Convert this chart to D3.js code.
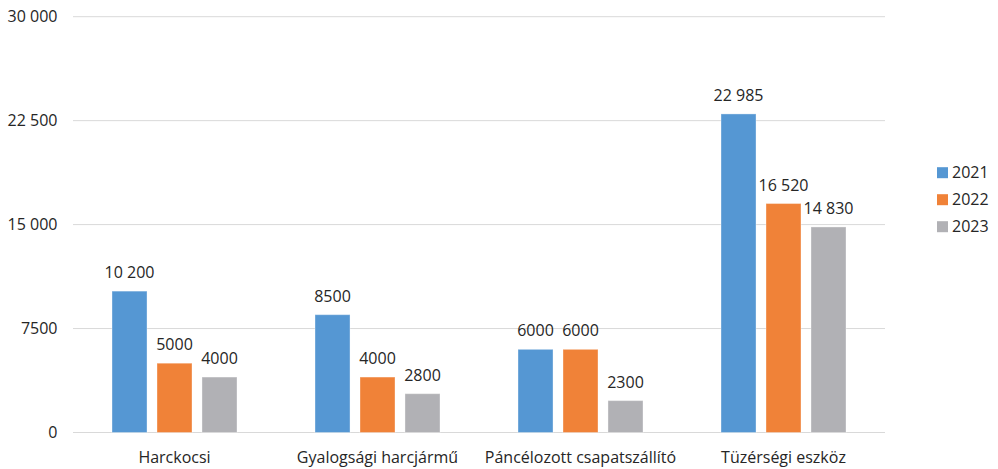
<!DOCTYPE html>
<html>
<head>
<meta charset="utf-8">
<script src="https://cdn.jsdelivr.net/npm/d3@7"></script>
<style>
  html, body { margin: 0; padding: 0; background: #fff; }
  svg { display: block; }
  text { font-family: "Open Sans", Lato, sans-serif; fill: #262626; }
</style>
</head>
<body>
<svg id="chart" width="998" height="469"></svg>
<script>
const categories = ["Harckocsi", "Gyalogsági harcjármű", "Páncélozott csapatszállító", "Tüzérségi eszköz"];
const seriesNames = ["2021", "2022", "2023"];
const values2021 = [10200, 8500, 6000, 22985];
const values2022 = [5000, 4000, 6000, 16520];
const values2023 = [4000, 2800, 2300, 14830];
const yTicks = [0, 7500, 15000, 22500, 30000];
const colors = ["#5597D3", "#F08238", "#B1B1B5"];

(function () {
const FONT = "'Open Sans', Lato, sans-serif";
const FS = 16;
const seriesValues = [values2021, values2022, values2023];
const data = categories.map((c, i) => ({
  category: c,
  vals: seriesNames.map((s, j) => ({ series: s, value: seriesValues[j][i], color: colors[j] }))
}));

const fmt = v => v >= 10000 ? d3.format(",")(v).replace(/,/g, " ") : String(v);

const svg = d3.select("#chart");
const mLeft = 73, mRight = 885, mTop = 16.7, mBottom = 432.5;

const y = d3.scaleLinear().domain([0, 30000]).range([mBottom, mTop]);
const x0 = d3.scaleBand().domain(categories).range([mLeft, mRight]).paddingInner(0).paddingOuter(0);
const x1 = d3.scaleBand().domain(seriesNames).range([0, x0.bandwidth()]).paddingInner(0.222).paddingOuter(0.867);

// gridlines
svg.append("g").selectAll("line").data(yTicks).join("line")
  .attr("x1", mLeft).attr("x2", mRight)
  .attr("y1", d => y(d)).attr("y2", d => y(d))
  .attr("stroke", "#d9d9d9").attr("stroke-width", 1);

// y axis labels
const yAxis = d3.axisLeft(y).tickValues(yTicks).tickSize(0).tickPadding(0).tickFormat(fmt);
const yg = svg.append("g").attr("transform", `translate(${mLeft - 15.5},0)`).call(yAxis);
yg.select(".domain").remove();
yg.selectAll("text").attr("font-size", FS).attr("fill", "#262626").style("font-family", FONT);

// x axis labels
const xAxis = d3.axisBottom(x0).tickSize(0).tickPadding(0);
const xg = svg.append("g").attr("transform", `translate(0,${mBottom + 19})`).call(xAxis);
xg.select(".domain").remove();
xg.selectAll("text").attr("font-size", FS).attr("fill", "#262626").style("font-family", FONT);

// bars
const groups = svg.append("g").selectAll("g").data(data).join("g")
  .attr("transform", d => `translate(${x0(d.category)},0)`);

groups.selectAll("rect").data(d => d.vals).join("rect")
  .attr("x", d => x1(d.series))
  .attr("width", x1.bandwidth())
  .attr("y", d => y(d.value))
  .attr("height", d => y(0) - y(d.value))
  .attr("fill", d => d.color)
  .attr("stroke", "rgba(255,255,255,0.35)")
  .attr("stroke-width", 1);

groups.selectAll("text.val").data(d => d.vals).join("text")
  .attr("class", "val")
  .attr("x", d => x1(d.series) + x1.bandwidth() / 2)
  .attr("y", d => y(d.value) - 13)
  .attr("text-anchor", "middle")
  .attr("font-size", FS)
  .text(d => fmt(d.value));

// legend
const legend = svg.append("g").selectAll("g").data(seriesNames).join("g")
  .attr("transform", (d, i) => `translate(937,${172.7 + i * 27})`);
legend.append("rect").attr("x", 0).attr("y", -5.5).attr("width", 11).attr("height", 11)
  .attr("fill", (d, i) => colors[i]);
legend.append("text").attr("x", 15).attr("y", 0).attr("dy", "0.36em")
  .attr("font-size", FS).text(d => d);
})();
</script>
</body>
</html>
